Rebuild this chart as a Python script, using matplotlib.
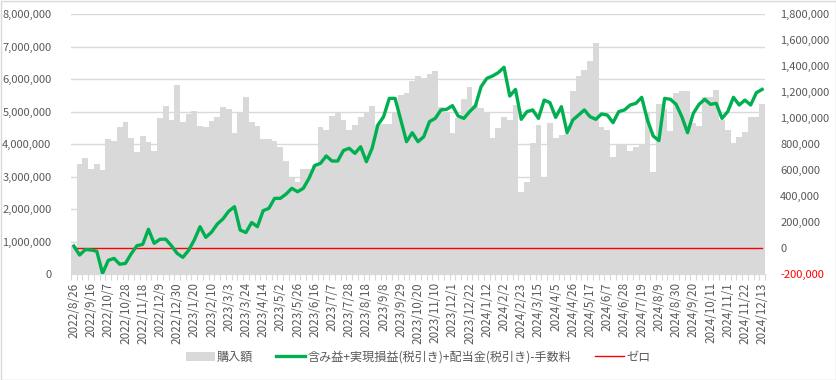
import matplotlib
matplotlib.use("Agg")
import matplotlib.pyplot as plt
import numpy as np
from matplotlib.ticker import FuncFormatter, FixedLocator
from matplotlib.patches import Rectangle
from matplotlib.lines import Line2D
from matplotlib.patches import Patch

plt.rcParams['font.family'] = ['Noto Sans CJK JP', 'DejaVu Sans']

# x-axis labels (every 3rd week)
tick_labels = [
    "2022/8/26", "2022/9/16", "2022/10/7", "2022/10/28", "2022/11/18", "2022/12/9",
    "2022/12/30", "2023/1/20", "2023/2/10", "2023/3/3", "2023/3/24", "2023/4/14",
    "2023/5/2", "2023/5/26", "2023/6/16", "2023/7/7", "2023/7/28", "2023/8/18",
    "2023/9/8", "2023/9/29", "2023/10/20", "2023/11/10", "2023/12/1", "2023/12/22",
    "2024/1/12", "2024/2/2", "2024/2/23", "2024/3/15", "2024/4/5", "2024/4/26",
    "2024/5/17", "2024/6/7", "2024/6/28", "2024/7/19", "2024/8/9", "2024/8/30",
    "2024/9/20", "2024/10/11", "2024/11/1", "2024/11/22", "2024/12/13",
]

# purchase amount (millions of yen)
purchase_m = [
    0.85, 3.40, 3.56, 3.22, 3.40, 3.20, 4.14, 4.10, 4.53, 4.69,
    4.17, 3.74, 4.26, 4.07, 3.78, 4.79, 5.18, 4.74, 5.82, 4.67,
    4.92, 5.03, 4.56, 4.51, 4.72, 4.82, 5.15, 5.07, 4.35, 4.96,
    5.46, 4.67, 4.56, 4.14, 4.14, 4.10, 3.90, 3.49, 2.95, 2.84,
    3.22, 3.22, 3.36, 4.53, 4.43, 4.86, 4.99, 4.74, 4.43, 4.58,
    4.82, 4.99, 5.18, 4.60, 4.62, 4.62, 4.94, 5.50, 5.56, 5.95,
    6.10, 6.02, 6.14, 6.26, 5.15, 5.00, 4.33, 4.79, 5.40, 5.76,
    5.20, 5.10, 4.94, 4.17, 4.48, 4.82, 4.74, 5.20, 2.53, 2.82,
    4.02, 4.60, 2.99, 4.64, 4.17, 4.28, 4.31, 5.62, 6.08, 6.27,
    6.54, 7.10, 4.53, 4.43, 3.61, 4.00, 4.00, 3.80, 3.92, 3.96,
    4.95, 3.15, 5.24, 5.07, 4.41, 5.56, 5.63, 5.64, 4.66, 4.55,
    5.46, 5.44, 5.66, 4.74, 4.43, 4.02, 4.23, 4.38, 4.82, 4.82,
    5.23,
]

# profit line (thousands of yen)
profit_k = [
    15, -54, -12, -15, -25, -195, -95, -80, -125, -118,
    -44, 18, 28, 144, 36, 67, 68, 18, -41, -72,
    -18, 62, 164, 82, 122, 184, 224, 283, 318, 138,
    119, 196, 164, 287, 305, 382, 382, 415, 459, 433,
    459, 536, 635, 651, 708, 669, 669, 750, 767, 728,
    779, 664, 767, 946, 1010, 1151, 1151, 985, 818, 887,
    818, 856, 972, 997, 1062, 1067, 1095, 1015, 997, 1049,
    1092, 1241, 1305, 1323, 1349, 1390, 1169, 1220, 990, 1049,
    1062, 997, 1138, 1118, 1005, 1087, 887, 985, 1023, 1062,
    1010, 990, 1031, 1023, 964, 1049, 1062, 1100, 1113, 1159,
    985, 862, 826, 1151, 1144, 1105, 1010, 887, 1036, 1105,
    1144, 1105, 1113, 997, 1049, 1159, 1100, 1138, 1100, 1195,
    1220,
]

zero_line = [0] * len(profit_k)

purchase = np.array(purchase_m) * 1_000_000
profit = np.array(profit_k) * 1_000
n = len(purchase)
x = np.arange(n)

W, H = 836, 380
fig = plt.figure(figsize=(W / 100, H / 100), dpi=100)
ax = fig.add_axes([71 / W, 1 - 274 / H, (765 - 71) / W, (274 - 14) / H])
ax2 = ax.twinx()

grey_txt = "#595959"
ax.bar(x, purchase, width=1.0, color="#d9d9d9", linewidth=0, zorder=2, antialiased=False)
ax.set_ylim(0, 8_000_000)
ax.set_xlim(-0.5, n - 0.5)
ax.set_yticks(np.arange(0, 8_000_001, 1_000_000))
ax.yaxis.set_major_formatter(FuncFormatter(lambda v, p: f"{int(v):,}"))
ax.grid(axis="y", color="#d9d9d9", linewidth=1.0, zorder=0)
ax.set_axisbelow(True)

ax2.plot(x, zero_line, color="#ff0000", linewidth=1.0, zorder=3)
ax2.plot(x, profit, color="#00b050", linewidth=2.4, zorder=4, solid_joinstyle="round")
ax2.set_ylim(-200_000, 1_800_000)
ax2.set_yticks(np.arange(-200_000, 1_800_001, 200_000))
ax2.yaxis.set_major_formatter(FuncFormatter(lambda v, p: f"{int(v):,}"))

for a in (ax, ax2):
    for s in ("top", "left", "right"):
        a.spines[s].set_visible(False)
    a.spines["bottom"].set_color("#d9d9d9")

ax.tick_params(axis="y", length=0, labelsize=8, labelcolor=grey_txt, pad=14)
ax2.tick_params(axis="y", length=0, labelsize=8, labelcolor=grey_txt, pad=11)
fig.canvas.draw()
for lbl in ax2.get_yticklabels():
    if lbl.get_text().startswith("-") or lbl.get_text().startswith("\u2212"):
        lbl.set_color("#ff0000")

ax.set_xticks(np.arange(0, n, 3))
ax.set_xticklabels(tick_labels, rotation=90, fontsize=8.4, color=grey_txt)
ax.xaxis.set_minor_locator(FixedLocator(np.arange(-0.5, n, 1)))
ax.tick_params(axis="x", which="major", length=0, pad=6)
ax.tick_params(axis="x", which="minor", length=4, color="#d9d9d9", width=0.8)

handles = [
    Patch(facecolor="#d9d9d9", edgecolor="none", label="購入額"),
    Line2D([0], [0], color="#00b050", linewidth=2.4, label="含み益+実現損益(税引き)+配当金(税引き)-手数料"),
    Line2D([0], [0], color="#ff0000", linewidth=1.0, label="ゼロ"),
]
leg = fig.legend(handles=handles, loc="center", bbox_to_anchor=(418 / W, 1 - 357 / H), ncol=3,
                 frameon=False, fontsize=8.7, handlelength=2.4, columnspacing=1.9,
                 handletextpad=0.2)
for t in leg.get_texts():
    t.set_color(grey_txt)

fig.patches.append(Rectangle((0.5 / W, 0.5 / H), 1 - 1 / W, 1 - 1 / H, transform=fig.transFigure,
                             fill=False, edgecolor="#d9d9d9", linewidth=1.0))

fig.savefig("out.png", dpi=100, facecolor="white")
